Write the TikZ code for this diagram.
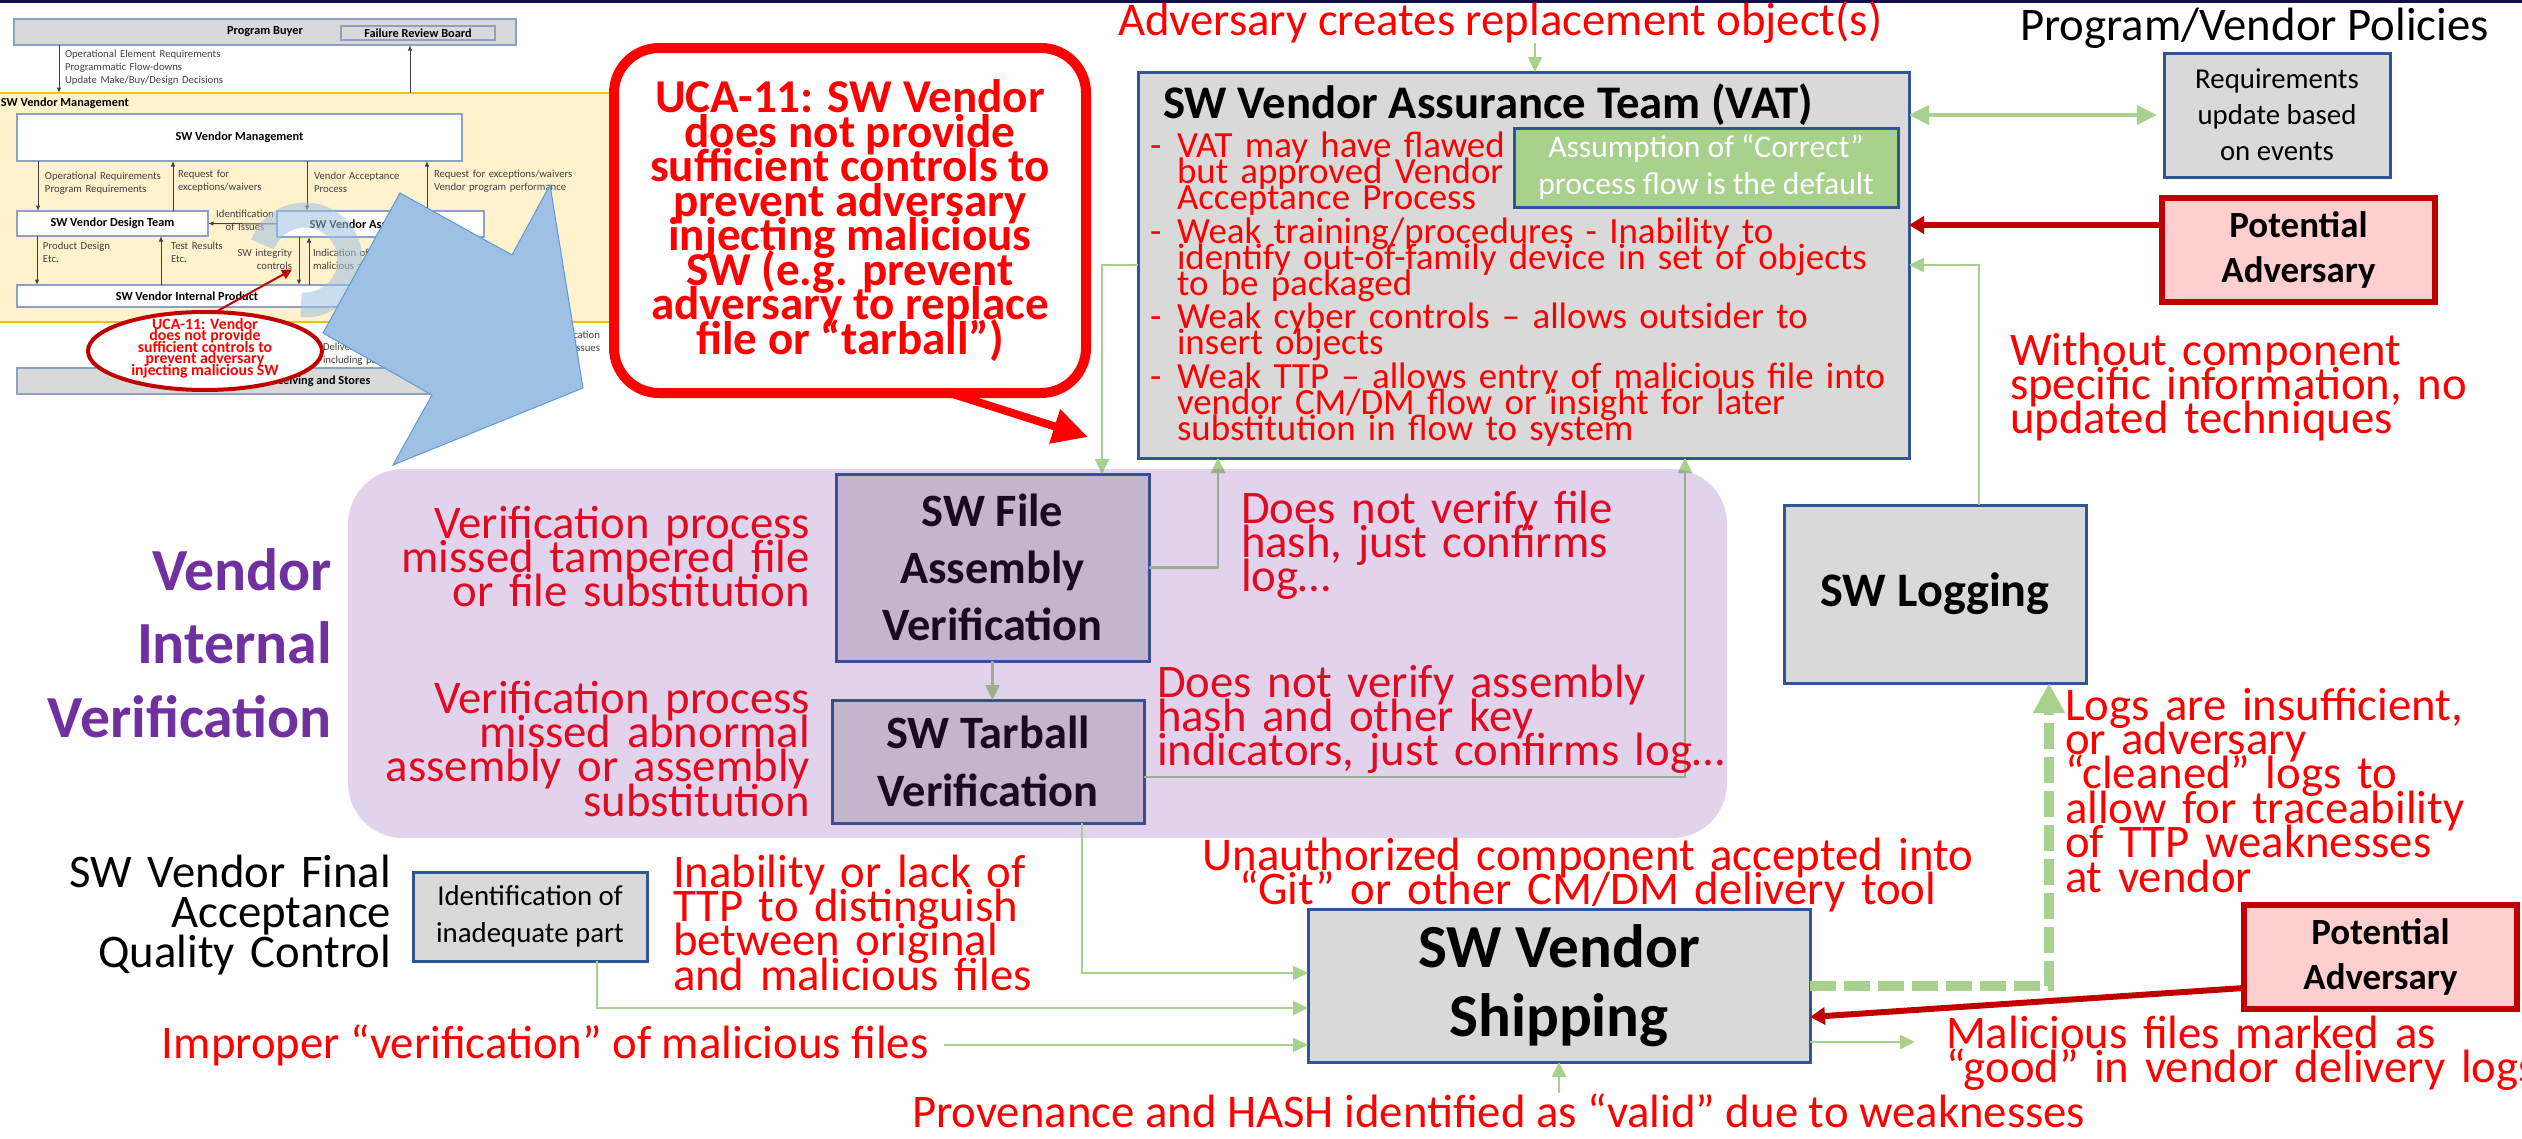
\documentclass[tikz,border=0pt]{standalone}
\usepackage{fontspec}
\setmainfont{Carlito}
\usetikzlibrary{arrows.meta,shapes.geometric,positioning}
\definecolor{navyb}{RGB}{47,85,151}
\definecolor{boxgray}{RGB}{217,217,217}
\definecolor{grn}{RGB}{169,209,142}
\definecolor{darkred}{RGB}{192,0,0}
\definecolor{pinkfill}{RGB}{255,207,207}
\definecolor{vpurple}{RGB}{112,48,160}
\definecolor{thumbyel}{RGB}{255,242,204}
\definecolor{thumbgold}{RGB}{255,192,0}
\definecolor{bluearr}{RGB}{157,192,228}
\definecolor{bluedge}{RGB}{91,155,213}
\definecolor{topnavy}{RGB}{16,16,80}
\newcommand\fsz[2]{\fontsize{#1}{#2}\selectfont\lineskiplimit=-\maxdimen}
\begin{document}
\begin{tikzpicture}[x=0.1mm,y=-0.1mm,
 every node/.style={inner sep=0pt,outer sep=0pt},
 box/.style={draw=navyb,line width=0.3mm,fill=boxgray,align=center},
 thbox/.style={draw=navyb!55,line width=0.12mm,fill=white,font=\bfseries\fsz{3.5}{4}},
 thtxt/.style={font=\fsz{3.05}{3.7},text=black!75,text width=40mm,align=left},
 tharr/.style={-{Latex[length=0.55mm,width=0.45mm]},line width=0.1mm,black!75},
 rednote/.style={text=red,font=\fsz{13.3}{9.8}},
 garrow/.style={grn,line width=0.25mm,-{Triangle[length=1.5mm,width=1.4mm]}},
 advarrow/.style={darkred,line width=0.6mm,-{Triangle[length=1.5mm,width=1.7mm]}},
 advbox/.style={draw=darkred,line width=0.6mm,fill=pinkfill,minimum width=27.3mm,
   minimum height=10.4mm,align=center,font=\bfseries\fsz{10.5}{12.8}}]
\useasboundingbox (0,0) rectangle (2522,1139);
\fill[topnavy] (0,0) rectangle (2522,3);

% thumbnail of the control structure
\node[draw=thumbgold,fill=thumbyel,line width=0.25mm,minimum width=64.8mm,minimum height=22.9mm] (vmreg) at (304,207.5) {};
\node[thbox,fill=boxgray,minimum width=50.2mm,minimum height=2.6mm] (pb) at (265,32) {Program Buyer};
\node[thbox,fill=boxgray,minimum width=15.4mm,minimum height=1.4mm] (frb) at (418,33) {Failure Review Board};
\node[thbox,draw=none,fill=none,anchor=base west] (vmlab) at (1,106) {SW Vendor Management};
\node[thbox,minimum width=44.5mm,minimum height=4.7mm] (svm) at (239.5,137.5) {SW Vendor Management};
\node[thbox,minimum width=19.1mm,minimum height=2.5mm] (sdt) at (112.5,223.5) {SW Vendor Design Team};
\node[thbox,minimum width=20.7mm,minimum height=2.6mm] (sva) at (380.5,224) {SW Vendor Assurance Team};
\node[thbox,minimum width=34mm,minimum height=2.2mm] (sip) at (187,296) {SW Vendor Internal Product};
\node[thbox,fill=boxgray,minimum width=54.2mm,minimum height=2.6mm] (prs) at (288,381) {SW Vendor Receiving and Stores};
\node[thtxt,anchor=base west] (t1) at (65,57.5) {Operational Element Requirements\\Programmatic Flow-downs\\Update Make/Buy/Design Decisions};
\node[thtxt,anchor=base west] (t2) at (45,179.5) {Operational Requirements\\Program Requirements};
\node[thtxt,anchor=base west] (t3) at (178,177.5) {Request for\\exceptions/waivers};
\node[thtxt,anchor=base west] (t4) at (314,179.5) {Vendor Acceptance\\Process};
\node[thtxt,anchor=base west] (t5) at (434,177.5) {Request for exceptions/waivers\\Vendor program performance};
\node[thtxt,anchor=base,align=center] (t6) at (245,217.5) {Identification\\of Issues};
\node[thtxt,anchor=base west] (t7) at (43,249.5) {Product Design\\Etc.};
\node[thtxt,anchor=base west] (t8) at (171,249.5) {Test Results\\Etc.};
\node[thtxt,anchor=base east,align=right] (t9) at (292,256.5) {SW integrity\\controls};
\node[thtxt,anchor=base west] (t10) at (313,256.5) {Indication of\\malicious activity};
\node[thtxt,anchor=base west] (t11) at (323,350) {Delivery\\including parts};
\node[thtxt,anchor=base east,align=right] (t12) at (600,338.5) {Notification\\of Quality Issues};
\foreach \x/\a/\b in {59/pb.south/vmreg.north, 410/vmreg.north/pb.south,
  38/svm.south/sdt.north, 173/sdt.north/svm.south, 307/svm.south/sva.north,
  427/sva.north/svm.south, 37/sdt.south/sip.north, 161/sip.north/sdt.south,
  299/sva.south/sip.north, 309/sip.north/sva.south}
  \draw[tharr] (\a -| \x,0) -- (\b -| \x,0);
\draw[tharr] (sva.west) -- (sdt.east);
\node[ellipse,draw=darkred,line width=0.4mm,fill=white,minimum width=23.4mm,minimum height=7.8mm] (uca) at (205,351) {};
\node[text=red,align=center,font=\bfseries\fsz{4.5}{3.3}] (ucatxt) at (205,348) {UCA-11: Vendor\\does not provide\\sufficient controls to\\prevent adversary\\injecting malicious SW};
\draw[darkred,line width=0.2mm,-{Triangle[length=1mm,width=1mm]}] (uca.75) -- (t9.south east);
\draw[bluearr,opacity=0.55,line width=2.5mm] (305,260) ++(200:45) arc[start angle=200,end angle=455,radius=45];
\filldraw[fill=bluearr,draw=bluedge,line width=0.1mm] (400,193) -- (512,255) -- (550,185) -- (583,388)
  -- (393,465) -- (432,395) -- (323,333) -- cycle;

% UCA callout
\coordinate (tailtip) at (1088,437);
\node[draw=red,line width=1mm,fill=white,rounded corners=4.5mm,minimum width=47.2mm,minimum height=34.5mm,
  text=red,align=center,font=\bfseries\fsz{13.4}{9.8}] (uca11) at (850,220.5)
  {UCA-11: SW Vendor\\does not provide\\sufficient controls to\\prevent adversary\\injecting malicious\\SW (e.g. prevent\\adversary to replace\\file or “tarball”)};
\draw[red,line width=0.8mm,-{Triangle[length=3.5mm,width=3.4mm]}] (uca11.-60) -- (tailtip);

% vendor assurance team
\node[rednote,anchor=base west] (adv) at (1118,35) {Adversary creates replacement object(s)};
\node[box,minimum width=77.1mm,minimum height=38.6mm] (vat) at (1523.5,265) {};
\node[anchor=base west,font=\bfseries\fsz{13.3}{14}] (vattl) at (1163,118) {SW Vendor Assurance Team (VAT)};
\node[box,fill=grn,minimum width=38.4mm,minimum height=7.9mm,text=white,font=\fsz{9}{10.5}] (asm) at (1706,167.5) {Assumption of “Correct”\\process flow is the default};
\foreach \y/\txt [count=\i] in {157/{VAT may have flawed\\but approved Vendor\\Acceptance Process},
  243/{Weak training/procedures - Inability to\\identify out-of-family device in set of objects\\to be packaged},
  328/{Weak cyber controls – allows outsider to\\insert objects},
  388/{Weak TTP – allows entry of malicious file into\\vendor CM/DM flow or insight for later\\substitution in flow to system}}
{
  \node[anchor=base west,text=red,font=\fsz{10.5}{7.5}] (dash\i) at (1150,\y) {-};
  \node[anchor=base west,text=red,font=\fsz{10.5}{7.5},text width=72mm,align=left] (vatb\i) at (1177,\y) {\txt};
}
\draw[garrow] (adv.south -| 1535,0) -- (vat.north -| 1535,0);
\node[anchor=base west,font=\fsz{13.3}{14}] (pvp) at (2020,40) {Program/Vendor Policies};
\node[box,minimum width=22.6mm,minimum height=12.4mm,font=\fsz{8.2}{10.2}] (req) at (2277,115) {Requirements\\update based\\on events};
\draw[grn,line width=0.4mm,{Triangle[length=2mm,width=1.9mm]}-{Triangle[length=2mm,width=1.9mm]},shorten >=0.7mm] (vat.east |- req.west) -- (req.west);
\node[advbox] (pa1) at (2298.5,250) {Potential\\Adversary};
\draw[advarrow] (pa1.west |- 0,225) -- (vat.east |- 0,225);
\node[rednote,anchor=base west,text width=60mm,align=left] (wo) at (2010,365) {Without component\\specific information, no\\updated techniques};

% logging
\node[box,minimum width=30.2mm,minimum height=17.8mm,font=\bfseries\fsz{13.7}{16}] (log) at (1935,594) {SW Logging};
\draw[garrow] (log.north -| 1979,0) |- (vat.east);
\node[rednote,anchor=base west,text width=50mm,align=left] (logs) at (2065,720) {Logs are insufficient,\\or adversary\\“cleaned” logs to\\allow for traceability\\of TTP weaknesses\\at vendor};

% vendor internal verification
\node[box,minimum width=31.3mm,minimum height=18.7mm,font=\bfseries\fsz{13.2}{16.2}] (fav) at (992.5,567.5) {SW File\\Assembly\\Verification};
\node[box,minimum width=31.2mm,minimum height=12.3mm,font=\bfseries\fsz{13.2}{16.5}] (tbv) at (988,761.5) {SW Tarball\\Verification};
\draw[garrow] (fav.south) -- (fav.south |- tbv.north);
\draw[garrow] (vat.west) -| (fav.north -| 1102,0);
\draw[garrow] (fav.east) -| (vat.south -| 1218,0);
\draw[garrow] (tbv.east |- 0,777) -| (vat.south -| 1685,0);
\node[rednote,anchor=base east,text width=60mm,align=right] (mtf) at (810,538) {Verification process\\missed tampered file\\or file substitution};
\node[rednote,anchor=base east,text width=60mm,align=right] (mab) at (810,713) {Verification process\\missed abnormal\\assembly or assembly\\substitution};
\node[rednote,anchor=base west,text width=60mm,align=left] (dnf) at (1241,523) {Does not verify file\\hash, just confirms\\log…};
\node[rednote,anchor=base west,text width=60mm,align=left] (dna) at (1157,697) {Does not verify assembly\\hash and other key\\indicators, just confirms log…};
\fill[vpurple,fill opacity=0.21,rounded corners=5.5mm] (348,469) rectangle (1727,838);
\node[anchor=base east,text width=40mm,align=right,text=vpurple,font=\bfseries\fsz{17}{21}] (viv) at (332,590) {Vendor\\Internal\\Verification};

% final acceptance and shipping
\node[anchor=base east,text width=50mm,align=right,font=\fsz{13.3}{11.4}] (fqc) at (391,887) {SW Vendor Final\\Acceptance\\Quality Control};
\node[box,minimum width=23.4mm,minimum height=8.9mm,font=\fsz{8.2}{10.5}] (iip) at (530,916.5) {Identification of\\inadequate part};
\node[rednote,anchor=base west,text width=60mm,align=left] (ilk) at (673,887) {Inability or lack of\\TTP to distinguish\\between original\\and malicious files};
\node[rednote,anchor=base west] (ipv) at (162,1058) {Improper “verification” of malicious files};
\node[rednote,anchor=base west] (pvh) at (912,1127) {Provenance and HASH identified as “valid” due to weaknesses};
\node[rednote,anchor=base,text width=90mm,align=center] (uac) at (1588,870) {Unauthorized component accepted into\\“Git” or other CM/DM delivery tool};
\node[box,minimum width=50.2mm,minimum height=15.3mm,font=\bfseries\fsz{17.4}{19.6}] (ship) at (1559,985.5) {SW Vendor\\Shipping};
\draw[garrow] (tbv.south -| 1082,0) |- (ship.west |- 0,973);
\draw[garrow] (iip.south -| 597,0) |- (ship.west |- 0,1008);
\draw[garrow] ([xshift=1.5mm]ipv.east) -- (ship.west |- ipv.east);
\draw[garrow] (pvh.north -| ship.south) -- (ship.south);
\coordinate (mout) at (1915,1042);
\draw[garrow] (ship.east |- mout) -- (mout);
\node[rednote,anchor=base west,text width=70mm,align=left] (mfm) at (1946,1048) {Malicious files marked as\\“good” in vendor delivery logs};
\node[advbox] (pa2) at (2380.5,957) {Potential\\Adversary};
\draw[advarrow] (pa2.west |- 0,988) -- (ship.east |- 0,1017);
\draw[grn,line width=1mm,dash pattern=on 2.6mm off 0.8mm,-{Triangle[length=3mm,width=3mm]}] (ship.east) -| (log.south -| 2049,0);
\end{tikzpicture}
\end{document}
